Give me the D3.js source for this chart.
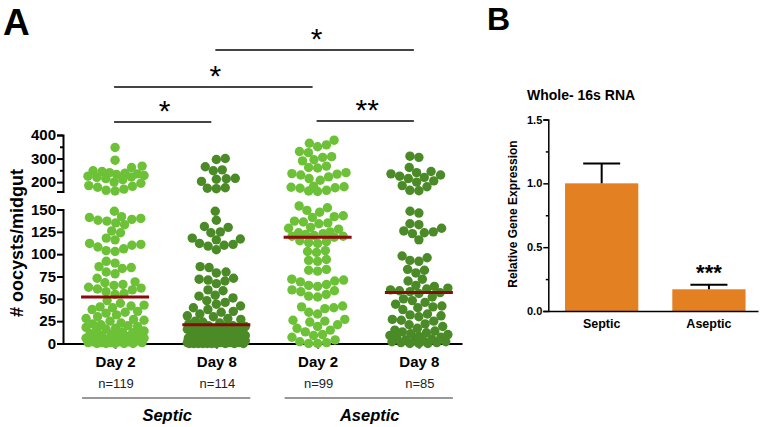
<!DOCTYPE html>
<html><head><meta charset="utf-8">
<script src="https://cdn.jsdelivr.net/npm/d3@7"></script>
<style>body{margin:0;background:#fff}svg{display:block;font-family:Arial,"Liberation Sans",sans-serif}</style>
</head><body><svg id="c" width="765" height="427"></svg>
<script>
// ---------- Panel A data ----------
const dayLabels = ["Day 2","Day 8","Day 2","Day 8"];
const nLabels = ["n=119","n=114","n=99","n=85"];
const groupNames = ["Septic","Aseptic"];
const septicDay2 = [347,293,268,262,248,245,240,238,235,232,228,225,222,220,215,210,200,195,185,182,178,170,165,162,
 148,142,141,140,139,138,137,135,133,126,124,118,116,112,111,110,108,106,104,103,92,90,86,85,84,80,78,73,69,68,66,65,63,62,61,60,58,56,55,
 48,45,43,42,41,40,38,36,35,34,32,30,28,27,26,25,23,22,21,20,19,18,17,16,15,14,13,12,11,10,10,9,8,8,7,6,6,5,5,4,4,3,3,3,2,2,2,1,1,1,1,0,0,0,0,0];
const septicDay8 = [300,296,265,252,248,216,214,212,203,176,174,172,
 148,138,131,130,125,124,118,117,116,112,111,110,109,105,86,85,80,79,73,72,71,70,67,60,59,54,53,51,
 48,46,44,42,40,38,36,35,33,31,30,28,27,25,24,23,22,
 20,20,19,19,18,18,17,17,16,16,15,15,14,14,13,13,12,12,11,11,10,10,9,9,8,8,7,7,6,6,5,5,5,4,4,4,3,3,3,2,2,2,2,1,1,1,1,0,0,0,0,0,0,0,0,0,0];
const asepticDay2 = [378,365,358,350,330,325,308,305,295,290,268,262,260,240,236,234,230,222,215,208,182,180,178,176,174,165,162,160,
 154,152,149,147,143,142,141,137,136,135,134,130,129,128,125,124,123,122,121,120,120,119,
 115,114,113,112,104,103,102,94,93,92,83,82,81,72,71,70,69,66,65,64,60,59,58,55,53,52,42,41,40,39,35,33,27,26,25,24,21,19,17,15,13,10,9,7,4,2,1,0,0];
const asepticDay8 = [310,305,262,245,240,235,230,225,220,215,205,200,185,180,165,163,
 148,146,134,133,129,126,125,124,123,116,98,96,93,92,83,82,79,72,70,65,64,62,61,60,59,58,57,
 56,52,50,48,46,44,42,41,40,38,33,32,31,30,27,26,25,22,21,19,17,15,14,13,12,11,10,9,8,7,6,5,4,3,3,2,2,1,1,0,0,0];
const medians = [52,21,119,57];
const lowerTicks = [0,25,50,75,100,125,150];
const upperTicks = [200,300,400];
const upperMinor = [250,350];
const comparisons = [[1,3,"*"],[0,2,"*"],[0,1,"*"],[2,3,"**"]];

// ---------- Panel B data ----------
const bCategories = ["Septic","Aseptic"];
const bMeans = [1.0,0.17];
const bErrors = [0.155,0.035];
const bSig = ["","***"];
const bTicks = [0,0.5,1.0,1.5];
const bMinor = [0.25,0.75,1.25];

const svg = d3.select("#c");
const series = [septicDay2,septicDay8,asepticDay2,asepticDay8];
const colors = ["#6cc137","#4b8b27","#6cc137","#4b8b27"];

// scales A
const yLow = d3.scaleLinear().domain([0,150]).range([343.5,209.5]);
const yUp = d3.scaleLinear().domain([160,400]).range([191.5,135]);
const yA = v => v > 157 ? yUp(v) : yLow(v);
const xA = d3.scalePoint().domain(d3.range(4)).range([63,462]).padding(0.47).align(0.547);

const gA = svg.append("g");
svg.append("text").attr("x",3).attr("y",35).attr("font-size",37).attr("font-weight","bold").text("A");

function styleAxis(g, fs, sw){
  g.selectAll("text").attr("font-size",fs).attr("font-weight","bold").attr("fill","#000").attr("font-family","Arial, 'Liberation Sans', sans-serif");
  g.selectAll("line,path").attr("stroke","#000").attr("stroke-width",sw);
}
styleAxis(gA.append("g").attr("transform","translate(63,0)").call(d3.axisLeft(yLow).tickValues(lowerTicks).tickSize(6).tickPadding(1)),15,2);
styleAxis(gA.append("g").attr("transform","translate(63,0)").call(d3.axisLeft(yUp).tickValues(upperTicks).tickSize(6).tickPadding(1)),15,2);
const mn = gA.append("g").attr("transform","translate(63,0)").call(d3.axisLeft(yUp).tickValues(upperMinor).tickSize(3).tickFormat(""));
mn.select(".domain").remove(); styleAxis(mn,15,2);
styleAxis(gA.append("g").attr("transform","translate(0,343.5)").call(d3.axisBottom(xA).tickFormat(i=>dayLabels[i]).tickSize(5).tickSizeOuter(0).tickPadding(8)),15,2);

gA.append("text").attr("transform","translate(23,243) rotate(-90)").attr("text-anchor","middle")
  .attr("font-size",18).attr("font-weight","bold").text("# oocysts/midgut");

// beeswarm layout
function swarm(vals, minD, cap){
  const pts = [];
  vals.slice().sort((a,b)=>a-b).forEach(v=>{
    const y = yA(v);
    const near = pts.filter(p=>Math.abs(p.y-y) < minD);
    const iv = near.map(p=>{const d=Math.sqrt(minD*minD-(p.y-y)*(p.y-y));return [p.dx-d,p.dx+d];});
    const cands = [0];
    iv.forEach(([a,b])=>cands.push(a,b));
    cands.sort((a,b)=>Math.abs(a)-Math.abs(b));
    let dx = null;
    for (const c of cands){
      if (Math.abs(c) > cap) break;
      if (iv.every(([a,b])=> c <= a+1e-6 || c >= b-1e-6)){dx=c;break;}
    }
    if (dx === null){
      let best=-1;
      for (let c=-cap;c<=cap;c+=0.5){
        const m = d3.min(near,p=>Math.hypot(p.dx-c,p.y-y));
        if (m>best){best=m;dx=c;}
      }
    }
    pts.push({v,y,dx});
  });
  return pts;
}

series.forEach((vals,i)=>{
  const pts = swarm(vals, 9, 29);
  gA.append("g").selectAll("circle").data(pts).join("circle")
    .attr("cx",d=>xA(i)+d.dx).attr("cy",d=>d.y).attr("r",4.7).attr("fill",colors[i]);
});
gA.append("g").selectAll("line").data(medians).join("line")
  .attr("x1",(d,i)=>xA(i)-34).attr("x2",(d,i)=>xA(i)+34)
  .attr("y1",d=>yA(d)).attr("y2",d=>yA(d)).attr("stroke","#8b0a0a").attr("stroke-width",3);

gA.append("g").selectAll("text").data(nLabels).join("text")
  .attr("x",(d,i)=>xA(i)+1).attr("y",388).attr("text-anchor","middle").attr("font-size",13).attr("fill","#222").text(d=>d);

groupNames.forEach((g,k)=>{
  const a = xA(2*k)-33, b = xA(2*k+1)+34;
  gA.append("line").attr("x1",a).attr("x2",b).attr("y1",398).attr("y2",398).attr("stroke","#333").attr("stroke-width",1.2);
  gA.append("text").attr("x",(a+b)/2+1).attr("y",421).attr("text-anchor","middle").attr("font-size",16.5)
    .attr("font-weight","bold").attr("font-style","italic").text(g);
});

const sigY = [50,87,122,121];
comparisons.forEach(([a,b,lab],k)=>{
  const x1 = xA(a)-1, x2 = xA(b)-5, y = sigY[k];
  gA.append("line").attr("x1",x1).attr("x2",x2).attr("y1",y).attr("y2",y).attr("stroke","#444").attr("stroke-width",2);
  gA.append("text").attr("x",(x1+x2)/2+2).attr("y",y-1).attr("text-anchor","middle").attr("font-size",30).text(lab);
});

// ---------- Panel B ----------
const gB = svg.append("g");
svg.append("text").attr("x",487).attr("y",30).attr("font-size",32).attr("font-weight","bold").text("B");
const yB = d3.scaleLinear().domain([0,1.5]).range([311,119.5]);
const xB = d3.scaleBand().domain(bCategories).range([548.3,758]).paddingInner(0.317).paddingOuter(0.136).align(0.574);

gB.append("g").selectAll("rect").data(bMeans).join("rect")
  .attr("x",(d,i)=>xB(bCategories[i])).attr("width",xB.bandwidth())
  .attr("y",d=>yB(d)).attr("height",d=>yB(0)-yB(d)).attr("fill","#e28022");

bMeans.forEach((m,i)=>{
  const cx = xB(bCategories[i])+xB.bandwidth()/2, top = yB(m+bErrors[i]);
  gB.append("line").attr("x1",cx).attr("x2",cx).attr("y1",yB(m)).attr("y2",top).attr("stroke","#000").attr("stroke-width",2);
  gB.append("line").attr("x1",cx-18.5).attr("x2",cx+18.5).attr("y1",top).attr("y2",top).attr("stroke","#000").attr("stroke-width",2);
  if (bSig[i]) gB.append("text").attr("x",cx).attr("y",top-5).attr("text-anchor","middle").attr("font-size",22).attr("font-weight","bold").text(bSig[i]);
});

styleAxis(gB.append("g").attr("transform","translate(548.3,0)").call(d3.axisLeft(yB).tickValues(bTicks).tickFormat(d3.format(".1f")).tickSize(5).tickPadding(1)),11,1.5);
const mB = gB.append("g").attr("transform","translate(548.3,0)").call(d3.axisLeft(yB).tickValues(bMinor).tickSize(2.5).tickFormat(""));
mB.select(".domain").remove(); styleAxis(mB,11,1.5);
styleAxis(gB.append("g").attr("transform","translate(0,311)").call(d3.axisBottom(xB).tickSize(0).tickSizeOuter(0).tickPadding(8)),12.5,1.5);

gB.append("text").attr("x",527).attr("y",99.5).attr("font-size",14).attr("font-weight","bold").text("Whole- 16s RNA");
gB.append("text").attr("transform","translate(517,214) rotate(-90)").attr("text-anchor","middle")
  .attr("font-size",12).attr("font-weight","bold").text("Relative Gene Expression");
</script></body></html>
